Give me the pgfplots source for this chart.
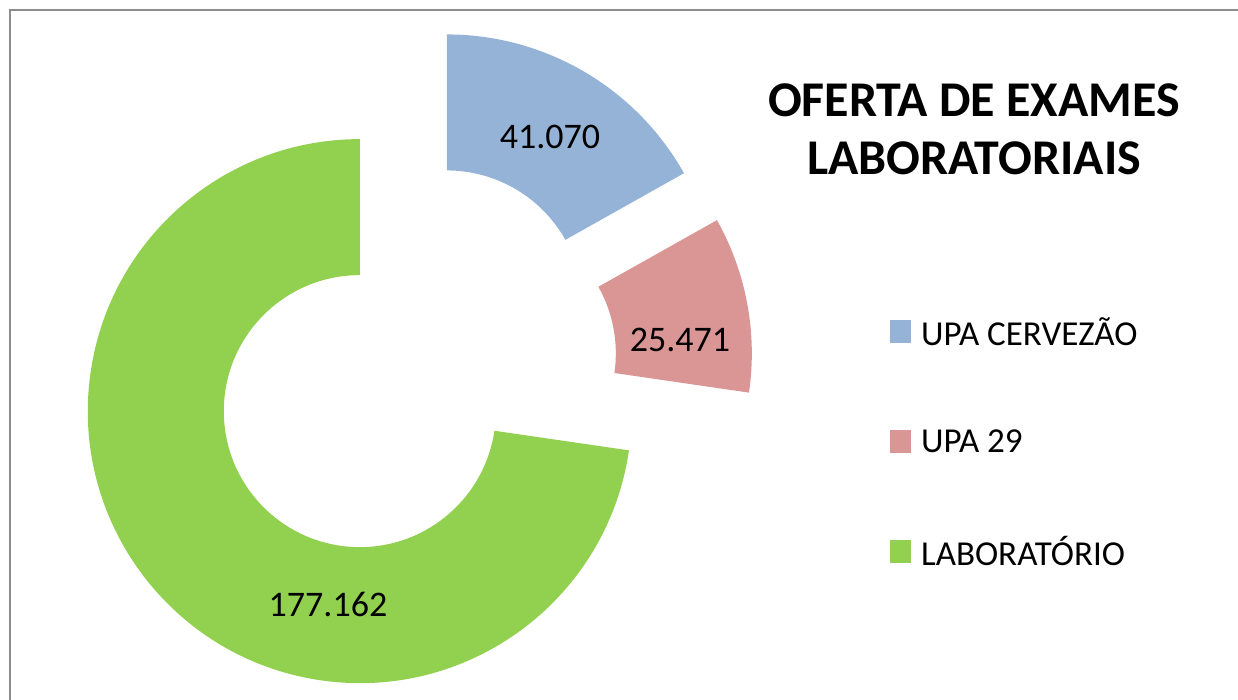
\documentclass[border=0pt]{standalone}
\usepackage{pgfplots}
\pgfplotsset{compat=1.18}
\usetikzlibrary{calc}
\usepackage{fontspec}
\setmainfont{Carlito}

\definecolor{cBlue}{RGB}{149,179,215}
\definecolor{cRed}{RGB}{217,150,148}
\definecolor{cGreen}{RGB}{146,208,80}
\definecolor{cFrame}{RGB}{140,140,140}

% data
\def\vA{41070}   % UPA CERVEZAO
\def\vB{25471}   % UPA 29
\def\vC{177162}  % LABORATORIO

% geometry (axis units = pixels of the reference)
\def\Cx{412}\def\Cy{334}\def\dEx{69}
\def\Rout{136pt}\def\Rin{68pt}

\edef\tot{\fpeval{\vA+\vB+\vC}}
\edef\sA{90}
\edef\eA{\fpeval{90-360*\vA/\tot}}
\edef\sB{\eA}
\edef\eB{\fpeval{\eA-360*\vB/\tot}}
\edef\sC{\eB}
\edef\eC{\fpeval{\eB-360*\vC/\tot}}
\edef\cxA{\fpeval{\Cx+\dEx*cosd((\sA+\eA)/2)}}\edef\cyA{\fpeval{\Cy+\dEx*sind((\sA+\eA)/2)}}
\edef\cxB{\fpeval{\Cx+\dEx*cosd((\sB+\eB)/2)}}\edef\cyB{\fpeval{\Cy+\dEx*sind((\sB+\eB)/2)}}
\edef\cxC{\fpeval{\Cx+\dEx*cosd((\sC+\eC)/2)}}\edef\cyC{\fpeval{\Cy+\dEx*sind((\sC+\eC)/2)}}

\newcommand\sector[5]{% color, cx, cy, start, end
  \fill[#1] ($(axis cs:#2,#3)+(#4:\Rout)$) arc[start angle=#4, end angle=#5, radius=\Rout]
    -- ($(axis cs:#2,#3)+(#5:\Rin)$) arc[start angle=#5, end angle=#4, radius=\Rin] -- cycle;}

\begin{document}
\begin{tikzpicture}
\useasboundingbox (0,0) rectangle (619pt,350pt);
\begin{axis}[at={(0,0)},anchor=south west,scale only axis,
  width=619pt,height=350pt,xmin=0,xmax=1238,ymin=0,ymax=700,
  hide axis,clip=false]
\draw[cFrame,line width=1.1pt] (axis cs:10,0) -- (axis cs:10,690) -- (axis cs:1238,690);
\sector{cBlue}{\cxA}{\cyA}{\sA}{\eA}
\sector{cRed}{\cxB}{\cyB}{\sB}{\eB}
\sector{cGreen}{\cxC}{\cyC}{\sC}{\eC}
\node[font=\fontsize{18}{22}\selectfont] at (axis cs:550,563) {41.070};
\node[font=\fontsize{18}{22}\selectfont] at (axis cs:680,360) {25.471};
\node[font=\fontsize{18}{22}\selectfont] at (axis cs:328,96) {177.162};
\node[font=\fontsize{25}{29}\selectfont\bfseries,align=center] at (axis cs:974,571) {OFERTA DE EXAMES\\LABORATORIAIS};
\fill[cBlue] (axis cs:890,380) rectangle (axis cs:911,357);
\fill[cRed] (axis cs:890,270) rectangle (axis cs:911,247);
\fill[cGreen] (axis cs:890,160) rectangle (axis cs:911,137);
\node[anchor=west,font=\fontsize{17.5}{21}\selectfont] at (axis cs:914,368.5) {UPA CERVEZÃO};
\node[anchor=west,font=\fontsize{17.5}{21}\selectfont] at (axis cs:914,258.5) {UPA 29};
\node[anchor=west,font=\fontsize{17.5}{21}\selectfont] at (axis cs:914,148.5) {LABORATÓRIO};
\end{axis}
\end{tikzpicture}
\end{document}
